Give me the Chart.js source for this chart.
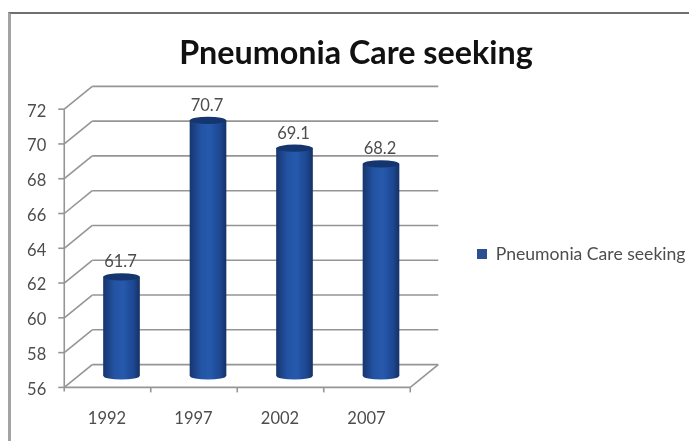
<!DOCTYPE html>
<html>
<head>
<meta charset="utf-8">
<title>Pneumonia Care seeking</title>
<script src="https://cdn.jsdelivr.net/npm/chart.js@4/dist/chart.umd.min.js"></script>
<style>
	html, body { margin: 0; padding: 0; background: #fff; overflow: hidden; }
	#wrap { position: relative; width: 689px; height: 441px; }
	#frame { position: absolute; left: 8px; top: 12px; right: 0; bottom: 0; border-left: 3px solid #a3a3a3; border-top: 2px solid #6f6f6f; }
	canvas { position: absolute; left: 0; top: 0; }
</style>
</head>
<body>
<div id="wrap">
	<div id="frame"></div>
	<canvas id="myChart" width="689" height="441"></canvas>
</div>
<script>
const years = ['1992', '1997', '2002', '2007'];
const careSeeking = [61.7, 70.7, 69.1, 68.2];
const seriesName = 'Pneumonia Care seeking';
const chartTitle = 'Pneumonia Care seeking';
const axisMin = 56;
const axisMax = 72;

const fontName = 'Lato, sans-serif';
const gridColor = '#959595';
const textColor = '#4d4d4d';
const solidBlue = '#2b4f93';

// half of the fake 3D depth, the plot area sits in the middle of the box
const depthX = 14;
const depthY = 11.4;
const capHeight = 3.6;

const barFill = (c) => {
	const x = c.chart.scales.x ? c.chart.scales.x.getPixelForValue(c.dataIndex) : NaN;
	if (!Number.isFinite(x)) return solidBlue;
	const g = c.chart.ctx.createLinearGradient(x - 18, 0, x + 18, 0);
	g.addColorStop(0, '#17366f');
	g.addColorStop(0.3, '#2353a3');
	g.addColorStop(0.55, '#2659ad');
	g.addColorStop(0.85, '#1c468f');
	g.addColorStop(1, '#153265');
	return g;
};

const line = (ctx, x1, y1, x2, y2) => {
	ctx.beginPath();
	ctx.moveTo(x1, y1);
	ctx.lineTo(x2, y2);
	ctx.stroke();
};

// walls and floor of the box behind the cylinders
const boxPlugin = {
	id: 'box',
	beforeDatasetsDraw(chart) {
		const { ctx, chartArea: area, scales } = chart;
		const left = area.left - depthX;
		const backLeft = area.left + depthX;
		const right = area.right - depthX;
		const backRight = area.right + depthX;
		ctx.save();
		ctx.strokeStyle = gridColor;
		ctx.lineWidth = 1.6;
		scales.y.ticks.forEach((tick) => {
			const y = scales.y.getPixelForValue(tick.value);
			line(ctx, left - 6, y + depthY, left, y + depthY);
			line(ctx, left, y + depthY, backLeft, y - depthY);
			line(ctx, backLeft, y - depthY, backRight, y - depthY);
		});
		const top = scales.y.getPixelForValue(axisMax);
		const bottom = scales.y.getPixelForValue(axisMin);
		line(ctx, left, top + depthY, left, bottom + depthY + 4);
		line(ctx, left, bottom + depthY, right, bottom + depthY);
		line(ctx, right, bottom + depthY, backRight, bottom - depthY);
		years.forEach((year, i) => {
			if (i === 0) return;
			const x = (scales.x.getPixelForValue(i - 1) + scales.x.getPixelForValue(i)) / 2 - depthX;
			line(ctx, x, bottom + depthY, x, bottom + depthY + 5);
		});
		line(ctx, right, bottom + depthY, right, bottom + depthY + 5);
		ctx.restore();
	},
	afterDatasetsDraw(chart) {
		const { ctx } = chart;
		const meta = chart.getDatasetMeta(0);
		ctx.save();
		meta.data.forEach((bar, i) => {
			const half = bar.width / 2;
			// rounded foot of the cylinder
			ctx.fillStyle = bar.options.backgroundColor;
			ctx.beginPath();
			ctx.ellipse(bar.x, bar.base, half, capHeight, 0, 0, Math.PI);
			ctx.fill();
			// dark lid
			ctx.fillStyle = '#15356f';
			ctx.beginPath();
			ctx.ellipse(bar.x, bar.y, half, capHeight, 0, 0, Math.PI * 2);
			ctx.fill();
			// value above the lid
			ctx.fillStyle = textColor;
			ctx.font = '16.5px ' + fontName;
			ctx.textAlign = 'center';
			ctx.textBaseline = 'middle';
			ctx.fillText(careSeeking[i].toFixed(1), bar.x - 1, bar.y - 15);
		});
		ctx.restore();
	},
	// the legend lives in the free space right of the box
	afterLayout(chart) {
		chart.legend.left = 471;
		chart.legend.right = 689;
		chart.legend.top = 194;
		chart.legend.bottom = 314;
	}
};

new Chart(document.getElementById('myChart'), {
	type: 'bar',
	data: {
		labels: years,
		datasets: [{
			label: seriesName,
			data: careSeeking,
			base: axisMin,
			backgroundColor: barFill,
			borderWidth: 0,
			barThickness: 36
		}]
	},
	options: {
		responsive: false,
		animation: false,
		layout: { padding: { left: 23, right: 0, top: 0, bottom: 0 } },
		plugins: {
			title: {
				display: true,
				text: chartTitle,
				color: '#111',
				font: { family: fontName, size: 32.3, weight: 'bold' },
				padding: { top: 34, bottom: 25 }
			},
			legend: {
				position: 'chartArea',
				labels: {
					boxWidth: 10,
					boxHeight: 10,
					padding: 6,
					color: textColor,
					font: { family: fontName, size: 17.6 },
					generateLabels: () => [{ text: seriesName, fillStyle: solidBlue, strokeStyle: solidBlue, fontColor: textColor, lineWidth: 0, datasetIndex: 0 }]
				}
			},
			tooltip: { enabled: false }
		},
		scales: {
			x: {
				grid: { display: false, drawTicks: false },
				border: { display: false },
				ticks: { color: textColor, font: { family: fontName, size: 16.5 }, padding: 33, labelOffset: -14.5 },
				afterFit: (s) => { s.height = 65; }
			},
			y: {
				min: axisMin,
				max: axisMax,
				grid: { display: false, drawTicks: false },
				border: { display: false },
				ticks: { stepSize: 2, color: textColor, font: { family: fontName, size: 16.5 }, padding: 32, labelOffset: 13.5 },
				afterFit: (s) => { s.width = 55.25; }
			},
			// keeps the space for the legend while the title stays centred on the frame
			gap: {
				position: 'right',
				grid: { display: false, drawTicks: false },
				border: { display: false },
				ticks: { display: false },
				afterFit: (s) => { s.width = 264.75; }
			}
		}
	},
	plugins: [boxPlugin]
});
</script>
</body>
</html>
